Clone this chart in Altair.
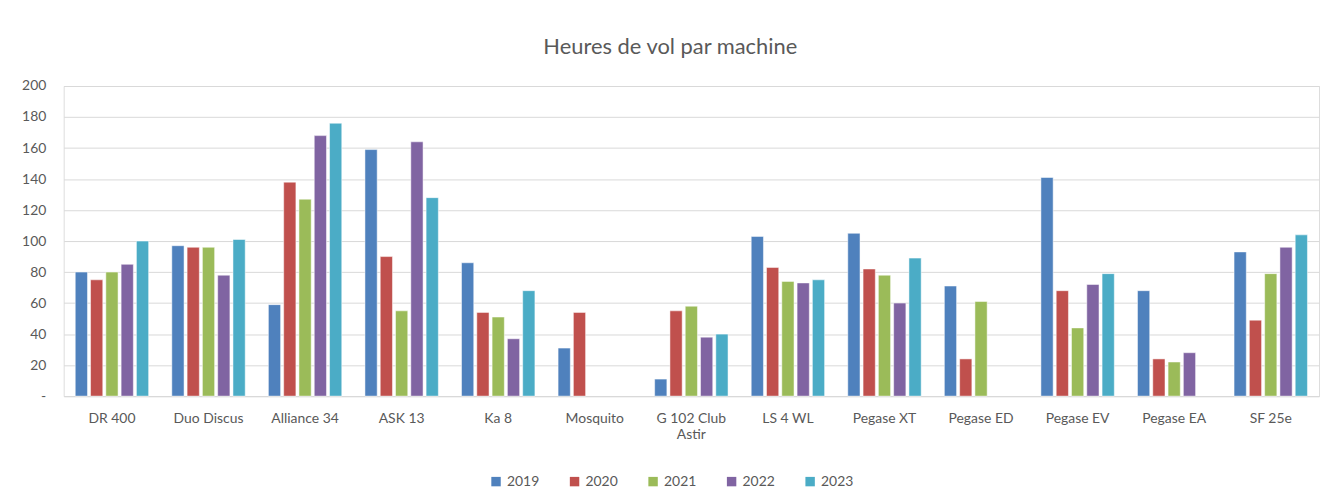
import altair as alt
import pandas as pd

machines = ["DR 400", "Duo Discus", "Alliance 34", "ASK 13", "Ka 8", "Mosquito",
            "G 102 Club Astir", "LS 4 WL", "Pegase XT", "Pegase ED", "Pegase EV",
            "Pegase EA", "SF 25e"]
years = ["2019", "2020", "2021", "2022", "2023"]
colors = ["#4F81BD", "#C0504D", "#9BBB59", "#8064A2", "#4BACC6"]

h2019 = [80, 97, 59, 159, 86, 31, 11, 103, 105, 71, 141, 68, 93]
h2020 = [75, 96, 138, 90, 54, 54, 55, 83, 82, 24, 68, 24, 49]
h2021 = [80, 96, 127, 55, 51, None, 58, 74, 78, 61, 44, 22, 79]
h2022 = [85, 78, 168, 164, 37, None, 38, 73, 60, None, 72, 28, 96]
h2023 = [100, 101, 176, 128, 68, None, 40, 75, 89, None, 79, None, 104]

series = [h2019, h2020, h2021, h2022, h2023]
rows = []
for y, vals in zip(years, series):
    for m, v in zip(machines, vals):
        if v is not None:
            rows.append({"machine": m, "year": y, "heures": v})
df = pd.DataFrame(rows)

FONT = "Lato"
GREY = "#595959"

chart = alt.Chart(df).mark_bar(stroke="white", strokeWidth=0.5).encode(
    x=alt.X("machine:N", sort=machines, title=None,
            scale=alt.Scale(paddingInner=0.24, paddingOuter=0.12),
            axis=alt.Axis(labelAngle=0, ticks=False, domainColor="#d9d9d9",
                          labelFont=FONT, labelFontSize=14, labelColor=GREY,
                          labelPadding=16,
                          labelExpr="datum.value == 'G 102 Club Astir' ? ['G 102 Club', 'Astir'] : datum.label")),
    xOffset=alt.XOffset("year:N", sort=years, scale=alt.Scale(paddingInner=0.2)),
    y=alt.Y("heures:Q", title=None,
            scale=alt.Scale(domain=[0, 200], nice=False),
            axis=alt.Axis(values=list(range(0, 201, 20)), ticks=False, domain=False,
                          gridColor="#d9d9d9", labelFont=FONT, labelFontSize=14,
                          labelColor=GREY, labelPadding=18,
                          labelExpr="datum.value == 0 ? '-' : datum.label")),
    color=alt.Color("year:N", sort=years,
                    scale=alt.Scale(domain=years, range=colors),
                    legend=alt.Legend(orient="none", direction="horizontal", title=None,
                                      legendX=428, legendY=391,
                                      symbolType="square", symbolSize=90, symbolStrokeWidth=0,
                                      labelFont=FONT, labelFontSize=14, labelColor=GREY,
                                      columnPadding=28)),
).properties(
    width=1263,
    height=312,
    title=alt.Title("Heures de vol par machine", font=FONT, fontSize=22,
                    fontWeight="normal", color=GREY, anchor="middle",
                    frame="bounds", offset=20),
).configure_view(stroke=None).configure(padding={"left": 13, "top": 27, "right": 5, "bottom": 5})

chart.save("out.html", embed_options={"renderer": "svg", "actions": False})
